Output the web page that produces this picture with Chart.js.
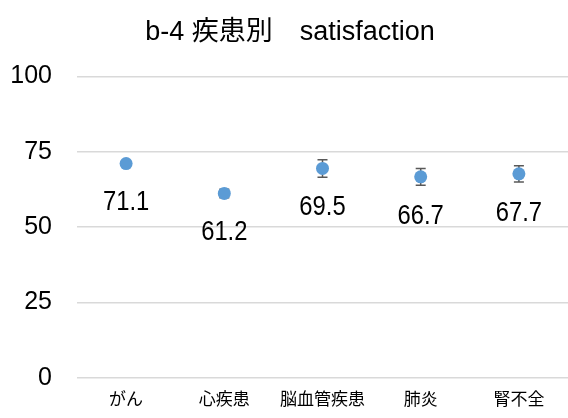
<!DOCTYPE html>
<html>
<head>
<meta charset="utf-8">
<script src="https://cdn.jsdelivr.net/npm/chart.js@4/dist/chart.umd.min.js"></script>
<style>
  html, body { margin: 0; padding: 0; background: #fff; }
  #wrap { width: 568px; height: 418px; }
</style>
</head>
<body>
<div id="wrap"><canvas id="chart"></canvas></div>
<script>
// Satisfaction by disease (b-4)
const categories = ['がん', '心疾患', '脳血管疾患', '肺炎', '腎不全'];
const scores = [71.1, 61.2, 69.5, 66.7, 67.7];
const errors = [0.8, 1.4, 2.9, 2.8, 2.7];
const yTicks = [0, 25, 50, 75, 100];

const FONT = '"Liberation Sans", "Noto Sans CJK JP", sans-serif';

// Error bars under the points, value labels below them
const errorBarPlugin = {
  id: 'errorBars',
  beforeDatasetsDraw(chart) {
    const ctx = chart.ctx;
    const x = chart.scales.x;
    const y = chart.scales.y;
    ctx.save();
    ctx.strokeStyle = '#595959';
    ctx.lineWidth = 1.5;
    scores.forEach((v, i) => {
      const px = x.getPixelForValue(i);
      const top = y.getPixelForValue(v + errors[i]);
      const bot = y.getPixelForValue(v - errors[i]);
      ctx.beginPath();
      ctx.moveTo(px, top); ctx.lineTo(px, bot);
      ctx.moveTo(px - 5, top); ctx.lineTo(px + 5, top);
      ctx.moveTo(px - 5, bot); ctx.lineTo(px + 5, bot);
      ctx.stroke();
    });
    ctx.restore();
  },
  afterDatasetsDraw(chart) {
    const ctx = chart.ctx;
    const x = chart.scales.x;
    const y = chart.scales.y;
    ctx.save();
    ctx.fillStyle = '#000';
    ctx.font = '28px ' + FONT;
    ctx.textAlign = 'center';
    ctx.textBaseline = 'middle';
    scores.forEach((v, i) => {
      // slightly condensed digits
      ctx.save();
      ctx.translate(x.getPixelForValue(i), y.getPixelForValue(v) + 39);
      ctx.scale(0.85, 1);
      ctx.fillText(v.toFixed(1), 0, 0);
      ctx.restore();
    });
    ctx.restore();
  }
};

new Chart(document.getElementById('chart'), {
  type: 'line',
  data: {
    labels: categories,
    datasets: [{
      data: scores,
      showLine: false,
      pointRadius: 6.5,
      pointHoverRadius: 6.5,
      pointBackgroundColor: '#5b9bd5',
      pointBorderColor: '#5b9bd5',
      pointBorderWidth: 0
    }]
  },
  options: {
    responsive: true,
    maintainAspectRatio: false,
    animation: false,
    layout: { autoPadding: false, padding: { left: 12, right: 0, top: 0, bottom: 0 } },
    plugins: {
      legend: { display: false },
      tooltip: { enabled: false },
      title: {
        display: true,
        text: 'b-4 疾患別　satisfaction',
        color: '#000',
        font: { family: FONT, size: 27, weight: 'normal' },
        padding: { top: 16, bottom: 28 }
      }
    },
    scales: {
      x: {
        offset: true,
        afterFit(axis) { axis.height = 31; },
        grid: { display: false, drawTicks: false },
        border: { display: false },
        ticks: {
          color: '#000',
          font: { family: FONT, size: 17 },
          padding: 12,
          maxRotation: 0,
          autoSkip: false
        }
      },
      y: {
        min: 0,
        max: 100,
        afterBuildTicks(axis) {
          axis.ticks = yTicks.map(v => ({ value: v }));
        },
        afterFit(axis) { axis.width = 65; },
        grid: { color: '#d9d9d9', lineWidth: 1.5, drawTicks: false },
        border: { display: false },
        ticks: {
          color: '#000',
          font: { family: FONT, size: 25 },
          padding: 25
        }
      }
    }
  },
  plugins: [errorBarPlugin]
});
</script>
</body>
</html>
